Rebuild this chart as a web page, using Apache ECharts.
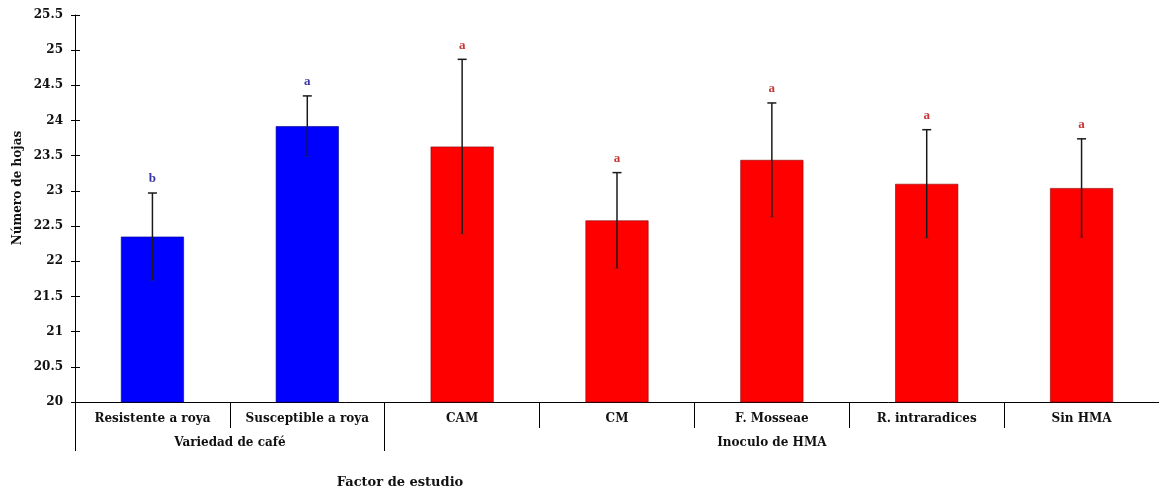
<!DOCTYPE html>
<html>
<head>
<meta charset="utf-8">
<script src="https://cdn.jsdelivr.net/npm/echarts@6/dist/echarts.min.js"></script>
<style>html,body{margin:0;padding:0;background:#fff;}#c{width:1159px;height:490px;}</style>
</head>
<body>
<div id="c"></div>
<script>
const categories = ['Resistente a roya', 'Susceptible a roya', 'CAM', 'CM', 'F. Mosseae', 'R. intraradices', 'Sin HMA'];
const means = [22.35, 23.92, 23.63, 22.58, 23.44, 23.10, 23.04];
const errors = [0.62, 0.43, 1.24, 0.68, 0.81, 0.77, 0.70];
const letters = ['b', 'a', 'a', 'a', 'a', 'a', 'a'];
const groupOf = [0, 0, 1, 1, 1, 1, 1];
const groupNames = ['Variedad de café', 'Inoculo de HMA'];
const groupStart = [0, 2];
const yTicks = [20, 20.5, 21, 21.5, 22, 22.5, 23, 23.5, 24, 24.5, 25, 25.5];

const barColors = ['#0000ff', '#ff0000'];
const barBorders = ['#00008a', '#8a0000'];
const letterColors = ['#3535a5', '#c83535'];
const serif = 'DejaVu Serif';

const chart = echarts.init(document.getElementById('c'), null, {renderer: 'canvas'});

const gridLeft = 75, gridTop = 15, gridWidth = 1094, gridBottom = 88;

const option = {
  animation: false,
  backgroundColor: '#ffffff',
  grid: {left: gridLeft, top: gridTop, width: gridWidth, bottom: gridBottom, containLabel: false},
  xAxis: [{
    type: 'category',
    data: categories,
    boundaryGap: true,
    axisLine: {show: true, lineStyle: {color: '#000', width: 1}},
    axisTick: {show: true, interval: 0, length: 26, lineStyle: {color: '#000', width: 1}},
    axisLabel: {interval: 0, margin: 11, fontFamily: serif, fontWeight: 'bold', fontSize: 12, color: '#111'},
    splitLine: {show: false}
  }, {
    type: 'category',
    data: categories,
    boundaryGap: true,
    position: 'bottom',
    axisLine: {show: false},
    axisTick: {show: true, length: 49, interval: function (i) { return groupStart.indexOf(i) >= 0; }, lineStyle: {color: '#000', width: 1}},
    axisLabel: {show: false},
    splitLine: {show: false}
  }],
  yAxis: [{
    type: 'value',
    min: 20, max: 25.5, interval: 0.5,
    axisLine: {show: true, lineStyle: {color: '#000', width: 1}},
    axisTick: {show: true, length: 4, lineStyle: {color: '#000'}},
    axisLabel: {margin: 12, fontFamily: serif, fontWeight: 'bold', fontSize: 12, color: '#111',
      formatter: function (v) { return yTicks.indexOf(v) >= 0 ? String(v) : ''; }},
    splitLine: {show: false}
  }, {
    type: 'value',
    min: 20, max: 25.5, interval: 0.5,
    position: 'left',
    axisLine: {show: false},
    axisTick: {show: true, inside: true, length: 5, lineStyle: {color: '#000'}},
    axisLabel: {show: false},
    splitLine: {show: false}
  }],
  series: [{
    type: 'bar',
    data: means.map(function (v, i) {
      return {value: v, itemStyle: {color: barColors[groupOf[i]], borderColor: barBorders[groupOf[i]], borderWidth: 0.6}};
    }),
    barWidth: 63,
    z: 2
  }, {
    type: 'custom',
    data: means.map(function (v, i) { return [i, v - errors[i], v + errors[i], i]; }),
    renderItem: function (params, api) {
      const i = api.value(0);
      const lo = api.coord([i, api.value(1)]);
      const hi = api.coord([i, api.value(2)]);
      const cap = 4.5;
      const g = groupOf[i];
      return {
        type: 'group',
        children: [
          {type: 'line', shape: {x1: hi[0], y1: hi[1], x2: lo[0], y2: lo[1]}, style: {stroke: '#1a1a1a', lineWidth: 1.5}},
          {type: 'line', shape: {x1: hi[0] - cap, y1: hi[1], x2: hi[0] + cap, y2: hi[1]}, style: {stroke: '#1a1a1a', lineWidth: 1.5}},
          {type: 'line', shape: {x1: lo[0] - 3, y1: lo[1], x2: lo[0] + 3, y2: lo[1]}, style: {stroke: '#333', lineWidth: 0.8, opacity: 0.5}},
          {type: 'text', x: hi[0], y: hi[1] - 14, style: {text: letters[i], fill: letterColors[g], font: 'bold 13px "Liberation Serif"', align: 'center', verticalAlign: 'middle'}}
        ]
      };
    },
    z: 5
  }]
};
chart.setOption(option);

// titles and group labels; group labels centred on each group's span via the axis scale
const groupEnds = groupStart.slice(1).concat([categories.length]);
const graphics = [
  {type: 'text', x: 18, y: 188, rotation: Math.PI / 2,
    style: {text: 'Número de hojas', font: 'bold 12px "DejaVu Serif"', fill: '#111', align: 'center', verticalAlign: 'middle'}},
  {type: 'text', x: 400, y: 483,
    style: {text: 'Factor de estudio', font: 'bold 13px "DejaVu Serif"', fill: '#111', align: 'center', verticalAlign: 'middle'}}
];
groupNames.forEach(function (name, k) {
  const a = chart.convertToPixel({xAxisIndex: 0}, groupStart[k]);
  const b = chart.convertToPixel({xAxisIndex: 0}, groupEnds[k] - 1);
  graphics.push({type: 'text', x: (a + b) / 2, y: 443,
    style: {text: name, font: 'bold 12px "DejaVu Serif"', fill: '#111', align: 'center', verticalAlign: 'middle'}});
});
chart.setOption({graphic: graphics});
</script>
</body>
</html>
